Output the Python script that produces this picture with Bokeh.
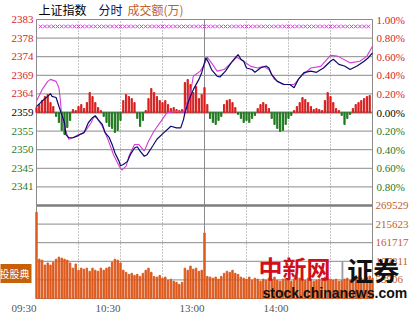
from bokeh.plotting import figure
from bokeh.models import ColumnDataSource, Range1d, LabelSet, Label
from bokeh.embed import file_html
from bokeh.resources import INLINE

# ---------------- data ----------------
PREV_CLOSE = 2359.5

# index (navy) : minutes since 09:30 (trading time) and level
idx_t = [0, 4, 8, 10, 11, 14, 16, 18, 20, 21, 23, 26, 29, 31, 34, 35, 37, 40, 42, 44, 47, 49, 52,
         54, 56, 59, 60, 62, 65, 67, 70, 72, 74, 77, 79, 83, 86, 91, 96, 100, 103, 105, 106, 109,
         112, 116, 118, 121, 123, 125, 129, 131, 135, 139, 142, 144, 146, 148, 150, 154, 156, 160,
         164, 166, 168, 172, 177, 181, 184, 187, 191, 196, 200, 205, 210, 212, 216, 220, 224, 229,
         234, 237, 240]
idx_v = [2361.0, 2362.4, 2363.6, 2364.3, 2363.6, 2363.3, 2361.1, 2359.0, 2356.9, 2353.9, 2353.1,
         2353.1, 2353.5, 2353.9, 2354.4, 2355.2, 2356.9, 2358.2, 2358.7, 2357.7, 2356.5, 2354.4,
         2353.1, 2351.4, 2349.3, 2347.1, 2346.0, 2346.3, 2347.1, 2348.8, 2350.5, 2350.8, 2349.7,
         2348.4, 2348.8, 2351.0, 2352.7, 2354.4, 2356.0, 2355.6, 2355.6, 2357.7, 2359.4, 2362.8,
         2365.3, 2367.9, 2369.6, 2373.4, 2372.1, 2370.4, 2368.7, 2368.5, 2370.0, 2372.1, 2373.4,
         2374.2, 2373.0, 2372.5, 2370.8, 2370.4, 2369.7, 2370.8, 2371.3, 2370.8, 2369.1, 2367.4,
         2366.6, 2366.6, 2365.8, 2367.9, 2369.6, 2370.0, 2369.7, 2370.8, 2372.5, 2373.0, 2371.7,
         2371.3, 2370.4, 2371.3, 2372.5, 2373.4, 2374.6]

# unweighted index (magenta)
avg_t = [0, 4, 8, 10, 14, 16, 17, 18, 21, 23, 26, 29, 33, 35, 39, 41, 43, 47, 51, 55, 59, 61, 64,
         66, 70, 73, 77, 80, 84, 89, 93, 100, 105, 110, 112, 117, 120, 122, 125, 129, 134, 139, 143,
         148, 153, 158, 162, 166, 170, 176, 184, 189, 196, 203, 210, 215, 224, 231, 236, 240]
avg_v = [2362.4, 2365.3, 2367.4, 2367.9, 2367.4, 2365.8, 2362.8, 2358.6, 2354.8, 2352.7, 2353.1,
         2353.7, 2354.2, 2354.8, 2356.9, 2358.4, 2358.2, 2356.0, 2352.7, 2348.8, 2345.9, 2344.9,
         2345.9, 2348.4, 2351.4, 2351.4, 2349.7, 2352.2, 2354.8, 2357.3, 2359.4, 2359.8, 2359.6,
         2364.5, 2368.7, 2370.0, 2371.7, 2373.5, 2372.1, 2370.0, 2370.4, 2372.1, 2373.5, 2372.5,
         2371.2, 2370.8, 2371.2, 2370.4, 2367.9, 2366.6, 2366.6, 2368.7, 2370.8, 2371.2, 2374.0,
         2373.8, 2372.1, 2372.5, 2373.8, 2376.3]

# lead indicator bars (every 2 minutes), red up / green down
bar_t = list(range(0, 240, 2))
bar_strength = [5, 8, 12, 16, 18, 10, 6, -4, -10, -18, -22, -15, -8, 3, 2, 6, 8, 4, 10, 20, 16, 10,
                5, 2, -4, -10, -14, -16, -20, -18, -8, 12, 18, 16, 14, 10, -6, -14, -8, 2, 14, 24,
                20, 16, 12, 10, 12, 8, 4, 5, 3, 2, 3, 30, 33, 28, 20, 26, 14, 18, 25, 8, -6, -10,
                -12, -8, -4, 8, 12, 13, 10, 5, -2, -6, -10, -8, -10, -6, -3, 4, 8, 10, 8, 4, -6,
                -12, -16, -19, -18, -12, -6, -3, 2, 6, 10, 15, 13, 10, 6, 3, 4, 3, 2, 12, 20, 16,
                10, 4, 2, -3, -12, -6, -2, 4, 8, 10, 12, 14, 16, 17]
LEAD_SCALE = 0.01075  # percent per strength unit

# turnover (万), every 2 minutes
vol_t = list(range(0, 241, 2))
vol_k = [250, 114, 111, 97, 103, 97, 105, 114, 120, 117, 114, 111, 103, 88, 100, 82, 88, 85, 88,
         79, 88, 82, 79, 88, 82, 88, 91, 105, 114, 111, 103, 82, 76, 70, 73, 67, 70, 64, 73, 82,
         88, 76, 64, 62, 67, 59, 62, 53, 56, 50, 47, 41, 47, 88, 82, 94, 85, 88, 79, 82, 190, 64,
         62, 59, 62, 56, 64, 73, 79, 76, 82, 73, 70, 62, 59, 56, 62, 53, 59, 56, 50, 56, 53, 59,
         56, 62, 53, 50, 56, 59, 53, 50, 56, 62, 59, 56, 53, 59, 56, 50, 53, 56, 59, 62, 59, 56,
         53, 56, 50, 53, 56, 59, 53, 56, 59, 62, 59, 56, 62, 65, 59]
vol_v = [v * 1000 for v in vol_k]

price_ticks = [1.0, 0.8, 0.6, 0.4, 0.2, 0.0, -0.2, -0.4, -0.6, -0.8]
price_labels = ["2383", "2378", "2374", "2369", "2364", "2359", "2355", "2350", "2345", "2341"]
pct_labels = ["1.00%", "0.80%", "0.60%", "0.40%", "0.20%", "0.00%", "0.20%", "0.40%", "0.60%", "0.80%"]
vol_ticks = [269529, 215623, 161717, 107811, 53906]
vol_labels = ["269529", "215623", "161717", "107811", "53906"]
time_ticks = [0, 60, 120, 180]
time_labels = ["09:30", "10:30", "13:00", "14:00"]

# ---------------- layout constants ----------------
W, H = 419, 318
PX_L, PX_R, PX_T, PX_B = 36, 47, 19, 20      # panel margins in pixels
T0, T1 = 0, 240                               # trading minutes
P_TOP, P_BOT = 1.0, -2.0                      # percent range of the whole panel
VOL_TOP = 269529 * 3
pxm = (W - PX_L - PX_R) / (T1 - T0)
pxp = (H - PX_T - PX_B) / (P_TOP - P_BOT)
pxv = (H - PX_T - PX_B) / VOL_TOP

RED = "#d81e1e"
GREEN = "#1f7a1f"
ORANGE = "#dd5a1e"
NAVY = "#0b0b6b"
MAGENTA = "#d43cd4"
GRID = "#8a8a8a"
FONT = "DejaVu Sans"

p = figure(width=W, height=H, output_backend="svg", toolbar_location=None,
           x_range=Range1d(T0 - PX_L / pxm, T1 + PX_R / pxm),
           y_range=Range1d(P_BOT - PX_B / pxp, P_TOP + PX_T / pxp),
           min_border=0, background_fill_color="white", border_fill_color="white")
p.extra_y_ranges = {"vol": Range1d(-PX_B / pxv, VOL_TOP + PX_T / pxv)}
p.xaxis.visible = False
p.yaxis.visible = False
p.grid.visible = False
p.outline_line_color = None

# grid
levels = [round(P_TOP - 0.2 * i, 2) for i in range(16)]
p.segment(x0=[T0] * len(levels), x1=[T1] * len(levels), y0=levels, y1=levels,
          line_color=GRID, line_width=1)
vlines = [30, 60, 90, 150, 180, 210]
p.segment(x0=vlines, x1=vlines, y0=[P_BOT] * 6, y1=[P_TOP] * 6, line_color=GRID,
          line_width=1, line_dash="1 2")
p.segment(x0=[120], x1=[120], y0=[P_BOT], y1=[P_TOP], line_color=GRID, line_width=1)
p.segment(x0=[T0, T0], x1=[T1, T1], y0=[0.0, -1.0], y1=[0.0, -1.0], line_color="#7d7d7d",
          line_width=[2, 2.5])
p.quad(left=[T0], right=[T1], top=[P_TOP], bottom=[P_BOT], fill_color=None, line_color=GRID)

pct = lambda v: (v / PREV_CLOSE - 1) * 100

# lead bars
lead_pct = [s * LEAD_SCALE for s in bar_strength]
up = ColumnDataSource(dict(x=[t for t, v in zip(bar_t, lead_pct) if v > 0],
                           top=[v for v in lead_pct if v > 0]))
dn = ColumnDataSource(dict(x=[t for t, v in zip(bar_t, lead_pct) if v < 0],
                           top=[v for v in lead_pct if v < 0]))
p.vbar(x="x", top="top", bottom=0, width=0.85, source=up, color=RED)
p.vbar(x="x", top="top", bottom=0, width=0.85, source=dn, color=GREEN)

# volume
p.vbar(x=vol_t, top=vol_v, bottom=0, width=1.0, color=ORANGE, y_range_name="vol")

# lines
p.line(avg_t, [pct(v) for v in avg_v], line_color=MAGENTA, line_width=1.1)
p.line(idx_t, [pct(v) for v in idx_v], line_color=NAVY, line_width=1.2)

# marker row
mark_t = list(range(3, 240, 3))
p.scatter(mark_t, [0.925] * len(mark_t), marker="x", size=5, line_color=MAGENTA, line_width=1)

# tick labels
lab_colors = [RED] * 5 + ["#000000"] + [GREEN] * 4
left = ColumnDataSource(dict(x=[T0] * 10, y=price_ticks, text=price_labels, c=lab_colors))
p.add_layout(LabelSet(x="x", y="y", text="text", source=left, text_color="c", text_align="right",
                      text_baseline="middle", x_offset=-3, text_font=FONT, text_font_size="11px"))
right = ColumnDataSource(dict(x=[T1] * 10, y=price_ticks, text=pct_labels, c=lab_colors))
p.add_layout(LabelSet(x="x", y="y", text="text", source=right, text_color="c", text_align="left",
                      text_baseline="middle", x_offset=4, text_font=FONT, text_font_size="11px"))
volsrc = ColumnDataSource(dict(x=[T1] * 5, y=vol_ticks, text=vol_labels))
p.add_layout(LabelSet(x="x", y="y", text="text", source=volsrc, y_range_name="vol",
                      text_color="#c0622a", text_align="left", text_baseline="middle", x_offset=3,
                      text_font=FONT, text_font_size="11px"))
timesrc = ColumnDataSource(dict(x=time_ticks, y=[P_BOT] * 4, text=time_labels))
p.add_layout(LabelSet(x="x", y="y", text="text", source=timesrc, text_color="#555555",
                      text_align="right", text_baseline="middle", y_offset=-9,
                      text_font=FONT, text_font_size="11px"))

# title
for x_off, txt, col in [(2, "上证指数", "#000000"), (62, "分时", NAVY), (91, "成交额(万)", "#c0622a")]:
    p.add_layout(Label(x=T0, y=P_TOP, x_offset=x_off, y_offset=10, text=txt, text_color=col,
                       text_baseline="middle", text_align="left",
                       text_font="Noto Sans CJK SC", text_font_size="12px"))

# watermark
p.add_layout(Label(x=158.6, y=-1.667, text="中新网", text_color="#d0101a", text_baseline="middle",
                   text_font="Noto Sans CJK SC", text_font_size="24px", text_font_style="bold"))
p.add_layout(Label(x=216, y=-1.68, text="|", text_color="#999999", text_baseline="middle",
                   text_font=FONT, text_font_size="20px"))
p.add_layout(Label(x=222, y=-1.688, text="证券", text_color="#111111", text_baseline="middle",
                   text_font="Noto Sans CJK SC", text_font_size="26px", text_font_style="bold"))
p.add_layout(Label(x=161.4, y=-1.941, text="stock.chinanews.com", text_color="#111111",
                   text_baseline="middle", text_font="Liberation Sans", text_font_size="14px",
                   text_font_style="bold"))
p.add_layout(Label(x=T0, y=-1.73, x_offset=-5, text="投股典", text_color="white", text_align="right",
                   text_baseline="middle", background_fill_color="#c8600a", padding=2,
                   text_font="Noto Sans CJK SC", text_font_size="10px"))

open("out.html", "w").write(file_html(p, INLINE))
